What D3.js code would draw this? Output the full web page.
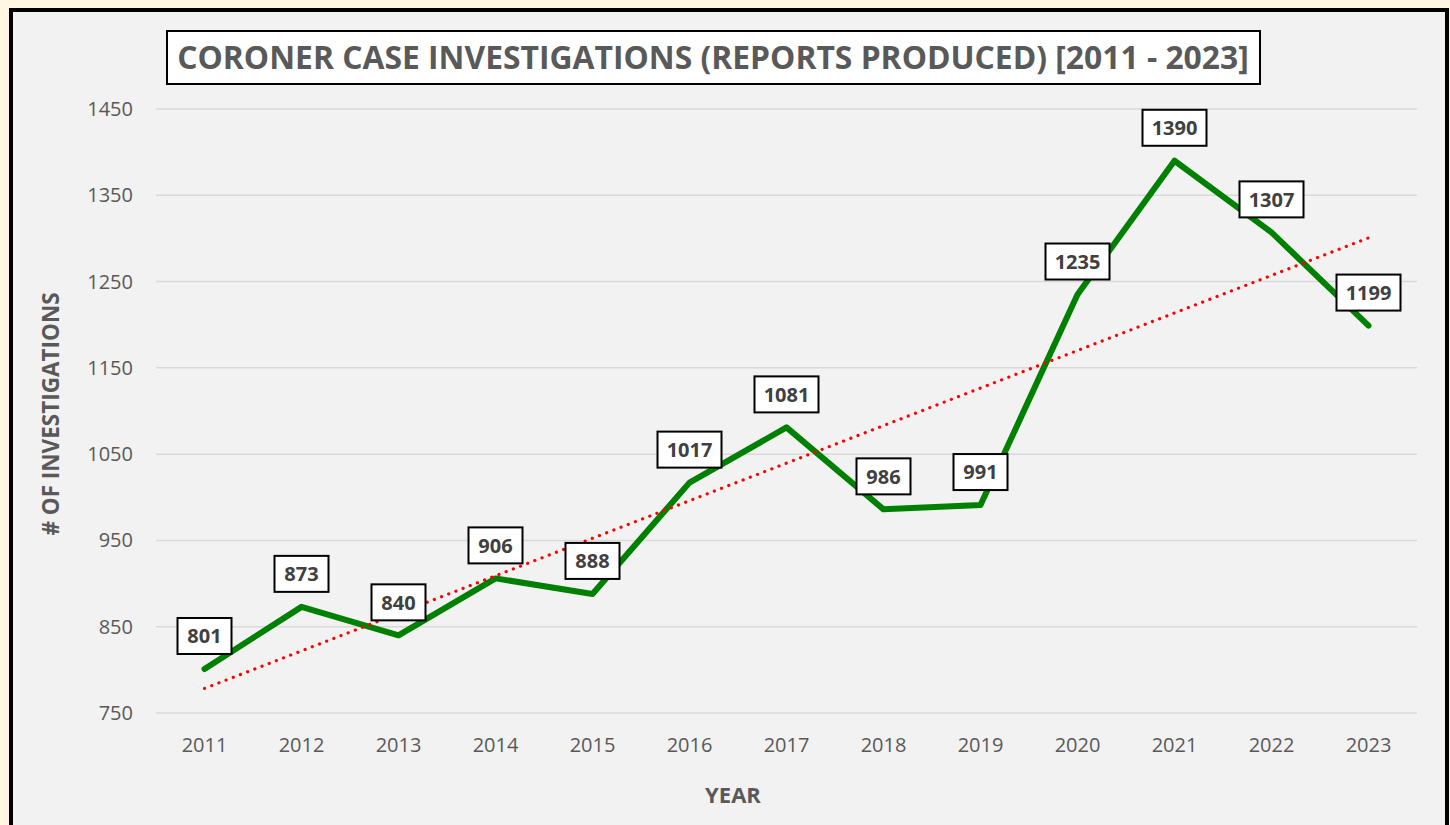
<!DOCTYPE html>
<html>
<head>
<meta charset="utf-8">
<script src="https://cdn.jsdelivr.net/npm/d3@7"></script>
<style>
  body { margin: 0; background: #fff7e1; }
  svg { display: block; }
</style>
</head>
<body>
<div id="chart"></div>
<script>
// data
var years = ["2011","2012","2013","2014","2015","2016","2017","2018","2019","2020","2021","2022","2023"]
var reports = [801, 873, 840, 906, 888, 1017, 1081, 986, 991, 1235, 1390, 1307, 1199]
var yTicks = [750, 850, 950, 1050, 1150, 1250, 1350, 1450]

var titleText = "CORONER CASE INVESTIGATIONS (REPORTS PRODUCED) [2011 - 2023]"
var gray = "#595959"
var font = "'Open Sans', 'Liberation Sans', sans-serif"

var W = 1450, H = 825
var svg = d3.select("#chart").append("svg").attr("width", W).attr("height", H)

// frame
svg.append("rect").attr("x", 0).attr("y", 0).attr("width", W).attr("height", H).attr("fill", "#fff7e1")
svg.append("rect").attr("x", 11).attr("y", 10).attr("width", 1436).attr("height", 840)
  .attr("fill", "#f2f2f2").attr("stroke", "#000").attr("stroke-width", 4)

var plot = {left: 156, right: 1417, top: 109, bottom: 713}

var x = d3.scaleBand().domain(years).range([plot.left, plot.right])
var y = d3.scaleLinear().domain([750, 1450]).range([plot.bottom, plot.top])
var cx = function(d){ return x(d) + x.bandwidth()/2 }

// gridlines
svg.append("g").selectAll("line").data(yTicks).enter().append("line")
  .attr("x1", plot.left).attr("x2", plot.right)
  .attr("y1", function(d){ return y(d) }).attr("y2", function(d){ return y(d) })
  .attr("stroke", "#d9d9d9").attr("stroke-width", 1.5)

// y tick labels
svg.append("g").selectAll("text").data(yTicks).enter().append("text")
  .attr("x", 133).attr("y", function(d){ return y(d) })
  .attr("dy", "0.35em").attr("text-anchor", "end")
  .style("font-family", font).style("font-size", "20px").attr("fill", gray)
  .text(function(d){ return d })

// x tick labels
svg.append("g").selectAll("text").data(years).enter().append("text")
  .attr("x", function(d){ return cx(d) }).attr("y", 745)
  .attr("dy", "0.35em").attr("text-anchor", "middle")
  .style("font-family", font).style("font-size", "20px").attr("fill", gray)
  .text(function(d){ return d })

// axis titles
svg.append("text").text("YEAR").attr("x", 733).attr("y", 795).attr("dy", "0.35em")
  .attr("text-anchor", "middle").style("font-family", font).style("font-size", "22px")
  .style("font-weight", "bold").attr("fill", gray)
svg.append("text").text("# OF INVESTIGATIONS")
  .attr("transform", "translate(51,414) rotate(-90)").attr("dy", "0.35em")
  .attr("text-anchor", "middle").style("font-family", font).style("font-size", "22.5px")
  .style("font-weight", "bold").attr("fill", gray)

// linear trendline (least squares over the series)
var n = reports.length
var mx = d3.mean(reports, function(d,i){ return i })
var my = d3.mean(reports)
var sxy = d3.sum(reports, function(d,i){ return (i-mx)*(d-my) })
var sxx = d3.sum(reports, function(d,i){ return (i-mx)*(i-mx) })
var slope = sxy/sxx, icpt = my - slope*mx

// series line
var line = d3.line().x(function(d,i){ return cx(years[i]) }).y(function(d){ return y(d) })
svg.append("path").datum(reports).attr("d", line)
  .attr("fill", "none").attr("stroke", "#008000").attr("stroke-width", 6)
  .attr("stroke-linejoin", "round").attr("stroke-linecap", "round")

svg.append("line")
  .attr("x1", cx(years[0])).attr("y1", y(icpt))
  .attr("x2", cx(years[n-1])).attr("y2", y(icpt + slope*(n-1)))
  .attr("stroke", "#ff0000").attr("stroke-width", 3.2)
  .attr("stroke-dasharray", "0.1 7.6").attr("stroke-linecap", "round")

// data labels
var lab = svg.append("g").selectAll("g").data(reports).enter().append("g")
  .attr("transform", function(d,i){ return "translate(" + cx(years[i]) + "," + (y(d) - 33) + ")" })
lab.append("rect")
  .attr("x", function(d){ return String(d).length > 3 ? -32 : -27 })
  .attr("width", function(d){ return String(d).length > 3 ? 64 : 54 })
  .attr("y", -18).attr("height", 36)
  .attr("fill", "#fff").attr("stroke", "#000").attr("stroke-width", 2)
lab.append("text").text(function(d){ return d })
  .attr("text-anchor", "middle").attr("dy", "0.36em")
  .style("font-family", font).style("font-size", "20px").style("font-weight", "bold")
  .attr("fill", "#404040")

// title
var tbox = svg.append("rect").attr("x", 167).attr("y", 31).attr("width", 1093).attr("height", 53)
  .attr("fill", "#fff").attr("stroke", "#000").attr("stroke-width", 2)
var title = svg.append("text").text(titleText).attr("x", 713).attr("y", 58).attr("dy", "0.35em")
  .attr("text-anchor", "middle").style("font-family", font).style("font-size", "30px")
  .style("font-weight", "bold").attr("fill", gray)
var tl = title.node().getComputedTextLength()
title.style("font-size", (30*1072/tl) + "px")
</script>
</body>
</html>
